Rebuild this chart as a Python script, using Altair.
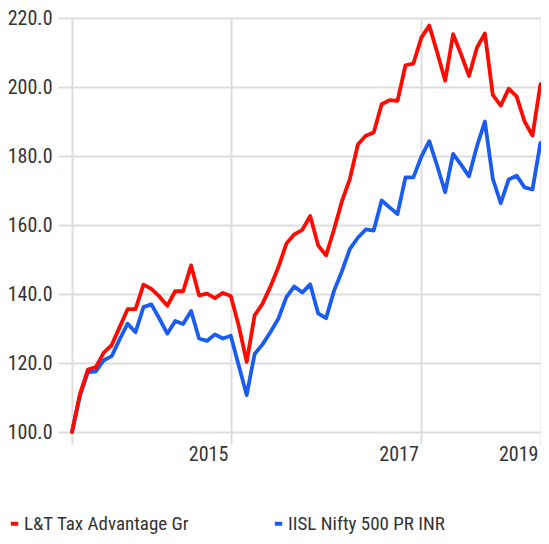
import altair as alt
import pandas as pd

series_names = ["L&T Tax Advantage Gr", "IISL Nifty 500 PR INR"]
series_colors = ["#ff0a00", "#1a5cf0"]

red_values = [100.0, 111.0, 118.1, 118.8, 123.0, 125.2, 130.4, 135.6, 135.6, 142.7,
              141.5, 139.3, 136.6, 140.8, 140.8, 148.3, 139.6, 140.1, 138.8, 140.3,
              139.4, 130.8, 120.3, 133.8, 137.2, 142.2, 147.8, 154.6, 157.3, 158.6,
              162.6, 154.1, 151.2, 158.7, 166.9, 173.4, 183.3, 185.9, 186.8, 195.0,
              196.2, 196.0, 206.3, 206.8, 214.3, 217.8, 210.0, 201.8, 215.3, 209.5,
              203.2, 211.4, 215.5, 197.7, 194.6, 199.5, 197.3, 190.0, 185.9, 200.8,
              199.9]
blue_values = [100.0, 110.5, 117.3, 117.6, 120.8, 122.0, 126.8, 131.4, 128.9, 136.2,
               137.0, 132.9, 128.5, 132.2, 131.3, 135.1, 127.1, 126.4, 128.3, 127.1,
               127.9, 119.3, 110.7, 122.6, 125.4, 129.0, 132.9, 139.1, 142.2, 140.4,
               142.8, 134.4, 133.0, 140.9, 146.6, 153.1, 156.3, 158.7, 158.4, 167.1,
               165.1, 163.2, 173.8, 173.8, 179.8, 184.3, 177.1, 169.5, 180.6, 177.5,
               174.1, 182.8, 190.0, 173.4, 166.3, 173.2, 174.3, 170.9, 170.3, 183.8,
               183.8]

x_tick_values = [0, 20, 44, 60]
x_tick_labels = ["", "2015", "2017", "2019"]
y_tick_values = [100, 120, 140, 160, 180, 200, 220]

# visible part of the month axis (the page margin cuts the last few pixels)
X_MAX = 59.07

FONT = "Roboto Condensed, Liberation Sans Narrow, Arial Narrow, Roboto, sans-serif"
GRID = "#dddddd"
TEXT = "#333333"

rows = []
for name, vals in zip(series_names, [red_values, blue_values]):
    for i, v in enumerate(vals):
        rows.append({"series": name, "m": i, "value": v})
df = pd.DataFrame(rows)

tick_pos = [min(v, X_MAX) for v in x_tick_values]
label_expr = " : ".join(
    f"datum.value == {v} ? '{l}'" for v, l in zip(tick_pos, x_tick_labels)
) + " : ''"

x_enc = alt.X(
    "m:Q",
    scale=alt.Scale(domain=[0, X_MAX], nice=False, zero=False),
    axis=alt.Axis(
        values=tick_pos, labelExpr=label_expr, title=None, grid=True,
        domain=False, tickSize=12, tickColor=GRID, tickWidth=2,
        gridColor=GRID, gridWidth=2, labelAlign="right", labelOffset=-3,
        labelPadding=0, labelFontSize=20, labelFont=FONT, labelColor=TEXT,
        labelOverlap=False, labelFlush=False, labelBaseline="top",
    ),
)
y_enc = alt.Y(
    "value:Q",
    scale=alt.Scale(domain=[100, 220], nice=False, zero=False),
    axis=alt.Axis(
        values=y_tick_values, format=".1f", title=None, grid=True, domain=False,
        tickSize=14, tickColor=GRID, tickWidth=2, gridColor=GRID, gridWidth=2,
        labelPadding=6, labelFontSize=20, labelFont=FONT, labelColor=TEXT,
        labelOverlap=False, labelFlush=False,
    ),
)
color_enc = alt.Color(
    "series:N",
    scale=alt.Scale(domain=series_names, range=series_colors),
    legend=alt.Legend(
        title=None, orient="none", legendX=-67, legendY=496, direction="horizontal",
        symbolType="stroke", symbolSize=55, symbolStrokeWidth=4,
        labelFontSize=19, labelFont=FONT, labelColor=TEXT, columnPadding=76,
        labelOffset=0, padding=0, labelLimit=400,
    ),
)

base = alt.Chart(df).mark_line(
    strokeWidth=3.8, strokeJoin="round", strokeCap="round"
).encode(x=x_enc, y=y_enc, color=color_enc)
blue_line = base.transform_filter(alt.datum.series == series_names[1])
red_line = base.transform_filter(alt.datum.series == series_names[0])

chart = alt.layer(blue_line, red_line).properties(
    width=469, height=414, autosize="none",
    padding={"left": 64, "top": 10, "right": 0, "bottom": 104},
).configure_view(stroke=None).configure(background="white")

chart.save("out.html", embed_options={"renderer": "svg", "actions": False})
